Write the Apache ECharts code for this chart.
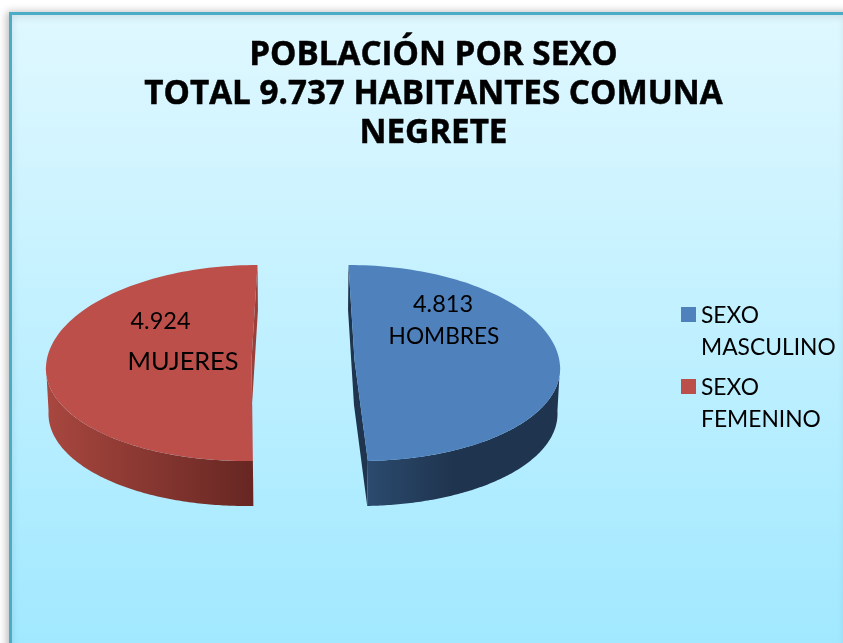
<!DOCTYPE html>
<html>
<head>
<meta charset="utf-8">
<style>html,body{margin:0;padding:0;background:#fff}#c{width:843px;height:643px}</style>
<script src="https://cdn.jsdelivr.net/npm/echarts@6/dist/echarts.min.js"></script>
</head>
<body>
<div id="c"></div>
<script>
const titleLines = ['POBLACIÓN POR SEXO', 'TOTAL 9.737 HABITANTES COMUNA', 'NEGRETE'];
const legendNames = ['SEXO\nMASCULINO', 'SEXO\nFEMENINO'];
const sliceWords = ['HOMBRES', 'MUJERES'];
const sliceValues = [4813, 4924];
const topColors = ['#4F81BD', '#BD4F4A'];
const wallColors = [['#2B4A6E', '#1F344E'], ['#A8473F', '#662622']];
const cutColors = ['#1F344E', '#9A3F3A'];

const FONT = 'Lato, "Open Sans", sans-serif';
const pie = { x: 303, y: 366, apexY: 360, rx: 205.5, ryBack: 101, ryFront: 95, explode: 51.5, persp: 0.1165, depth: 45, wallScale: 0.99 };
const total = sliceValues.reduce((a, b) => a + b, 0);

function project(offset, theta) {
  const v = -Math.cos(theta);
  return [pie.x + offset * (1 + pie.persp * v) + pie.rx * Math.sin(theta), pie.y + (v < 0 ? pie.ryBack : pie.ryFront) * v];
}
function arc(offset, a0, a1) {
  const pts = [];
  const n = 120;
  for (let i = 0; i <= n; i++) pts.push(project(offset, a0 + (a1 - a0) * i / n));
  return pts;
}
function down(pts) {
  return pts.map(p => [pie.x + (p[0] - pie.x) * pie.wallScale, p[1] + pie.depth]);
}

function sliceRenderer(index) {
  return function () {
    let before = 0;
    for (let i = 0; i < index; i++) before += sliceValues[i];
    const a0 = before / total * 2 * Math.PI;
    const a1 = (before + sliceValues[index]) / total * 2 * Math.PI;
    const offset = index === 0 ? pie.explode : -pie.explode;
    const rim = arc(offset, a0, a1);
    const frontRim = index === 0 ? arc(offset, Math.PI / 2, a1) : arc(offset, a0, Math.PI * 1.5);
    const apex = [pie.x + offset, pie.apexY];
    const face = [rim[rim.length - 1], apex, rim[0]];
    const grad = {
      type: 'linear', global: true,
      x: index === 0 ? 368 : 47, y: 0, x2: index === 0 ? 560 : 255, y2: 0,
      colorStops: index === 0 ? [
        { offset: 0, color: wallColors[0][0] },
        { offset: 0.45, color: wallColors[0][1] },
        { offset: 1, color: wallColors[0][1] }
      ] : [
        { offset: 0, color: wallColors[1][0] },
        { offset: 1, color: wallColors[1][1] }
      ]
    };
    return {
      type: 'group',
      children: [
        { type: 'polygon', shape: { points: face.concat(down(face).reverse()) },
          style: { fill: cutColors[index] } },
        { type: 'polygon', shape: { points: frontRim.concat(down(frontRim).reverse()) },
          style: { fill: grad } },
        { type: 'polygon', shape: { points: rim.concat([apex]) },
          style: { fill: topColors[index] } }
      ]
    };
  };
}

function dotted(v) {
  const s = String(v);
  return s.slice(0, -3) + '.' + s.slice(-3);
}

const chart = echarts.init(document.getElementById('c'), null, { renderer: 'canvas' });
chart.setOption({
  animation: false,
  backgroundColor: '#ffffff',
  title: {
    text: titleLines.join('\n'),
    left: 428.5, top: 31, textAlign: 'center',
    textStyle: { fontFamily: '"Open Sans", sans-serif', fontSize: 33.2, fontWeight: 'bold', lineHeight: 39, color: '#000', textBorderColor: '#000', textBorderWidth: 0.5 }
  },
  legend: {
    orient: 'vertical', left: 676, top: 295, itemWidth: 15, itemHeight: 50, itemGap: 8,
    selectedMode: false,
    icon: 'path://M0 0H15V15H0Z M0 50H0.01V50.01H0Z',
    symbolKeepAspect: false,
    textStyle: { fontFamily: FONT, fontSize: 22.8, lineHeight: 32, color: '#000' },
    data: legendNames
  },
  graphic: [
    { type: 'rect', z: -10, shape: { x: 10.5, y: 13.5, width: 840, height: 640 },
      style: {
        fill: { type: 'linear', x: 0, y: 0, x2: 0, y2: 1, colorStops: [
          { offset: 0, color: '#E0F8FF' }, { offset: 1, color: '#A0E8FF' } ] },
        stroke: '#4BACC6', lineWidth: 3,
        shadowBlur: 8, shadowColor: 'rgba(0,0,0,0.25)', shadowOffsetX: -2
      } },
    { type: 'text', z: 10, x: 443, y: 304, style: { text: dotted(sliceValues[0]), font: '23.5px ' + FONT, fill: '#000', align: 'center', verticalAlign: 'middle' } },
    { type: 'text', z: 10, x: 444, y: 337, style: { text: sliceWords[0], font: '22.7px ' + FONT, fill: '#000', align: 'center', verticalAlign: 'middle' } },
    { type: 'text', z: 10, x: 160.5, y: 321, style: { text: dotted(sliceValues[1]), font: '23.5px ' + FONT, fill: '#000', align: 'center', verticalAlign: 'middle' } },
    { type: 'text', z: 10, x: 183, y: 362, style: { text: sliceWords[1], font: '25.3px ' + FONT, fill: '#000', align: 'center', verticalAlign: 'middle' } }
  ],
  series: legendNames.map((name, i) => ({
    type: 'custom',
    name: name,
    coordinateSystem: 'none',
    silent: true,
    itemStyle: { color: topColors[i] },
    data: [sliceValues[i]],
    renderItem: sliceRenderer(i)
  }))
});
</script>
</body>
</html>
